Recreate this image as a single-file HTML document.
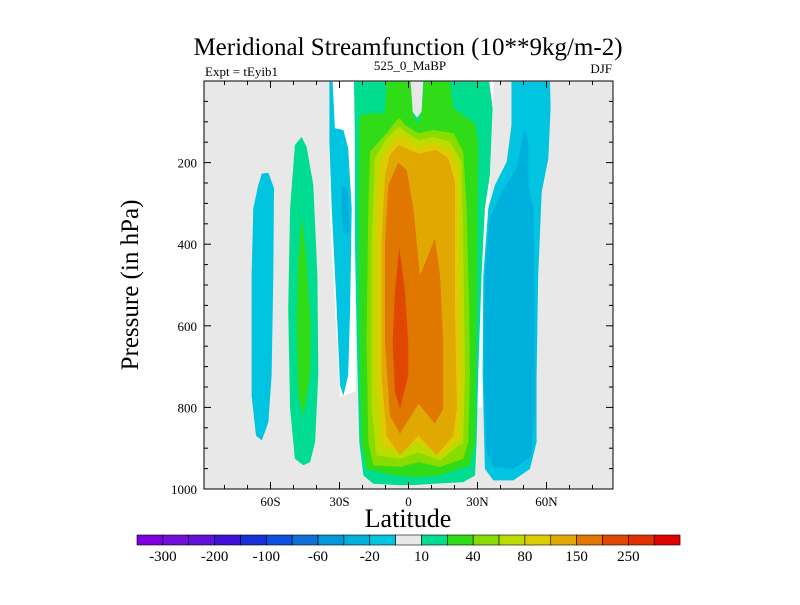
<!DOCTYPE html>
<html><head><meta charset="utf-8"><style>
body{margin:0;background:#fff;width:800px;height:600px;overflow:hidden}
svg{font-family:"Liberation Serif",serif}
</style></head><body>
<svg id="chart" width="800" height="600"></svg>
<script>
// ---- data ----
const xTicks=[-60,-30,0,30,60];
const xTickLabels=["60S","30S","0","30N","60N"];
const yTicks=[200,400,600,800,1000];
const levelBounds=[-300,-250,-200,-150,-100,-80,-60,-40,-20,-10,10,20,40,60,80,100,150,200,250,300];
const cbLabels=["-300","-200","-100","-60","-20","10","40","80","150","250"];
const levelColors=["#8000e0","#7010d8","#6010d8","#4010d8","#1830d8","#1050e0","#1070d8","#0098d8","#00b0dc","#00c4e0","#e8e8e8","#00dc90","#30dc18","#88dc00","#bcdc00","#dccc00","#e0a800","#e07800","#e04800","#e03000","#e00000"];
// contour regions: [colorIndex, points [lat, hPa]]
const whiteLeft=[[-34.4,2],[-22.5,2],[-22.5,500],[-23,760],[-29.8,775],[-34.4,300]];
const whiteRight=[[29.6,2],[37,2],[36.6,100],[33.5,500],[32.5,800],[29.3,800]];
const leftCyan=[[-63.8,227],[-60.9,225],[-58.5,263],[-58.8,476],[-59.5,721],[-60.9,836],[-63.8,881],[-66.3,869],[-68.2,771],[-68.2,476],[-67.5,312],[-65.3,255]];
const leftTeal=[[-46.5,137],[-44.3,161],[-41.4,255],[-39.6,476],[-39.2,721],[-40.6,885],[-42.8,934],[-45.7,942],[-49.4,926],[-51.5,803],[-52.3,558],[-51.5,312],[-49.4,157]];
const leftGreen=[[-46.5,329],[-44.3,443],[-42.5,599],[-42.8,721],[-45.7,820],[-47.9,771],[-48.6,599],[-47.9,435]];
const sCyan=[[-34.4,2],[-33.0,2],[-32.0,116],[-28.3,120],[-26.2,165],[-24.7,312],[-25.4,558],[-26.2,721],[-28.3,771],[-29.8,746],[-31.2,558],[-33.4,312],[-34.4,149]];
const sBlue=[[-29.1,255],[-26.2,267],[-25.7,370],[-28.0,378],[-29.1,312]];
const cTeal=[[-23.7,2],[0.9,2],[1.8,75],[3.8,90],[5.7,75],[6.4,2],[35.1,2],[36.6,67],[35.4,231],[33.2,312],[31.8,476],[30.3,721],[29.6,885],[28.9,967],[23.8,983],[10.8,987],[3.5,990],[-3.7,991],[-15.3,987],[-19.6,967],[-21.4,885],[-22.5,640],[-23.3,394],[-23.3,149]];
const cGreen=[[-21.1,83],[-15.3,79],[-10.2,79],[-9.5,2],[0.9,2],[1.8,75],[3.8,108],[5.7,75],[6.7,2],[18.0,2],[19.5,67],[28.9,104],[30.3,149],[29.9,476],[29.3,721],[28.9,885],[26.7,942],[13.7,967],[4.3,971],[-6.6,967],[-18.2,951],[-20.4,885],[-21.4,640],[-21.8,312],[-21.4,108]];
const c40=[[-5.2,96],[-3.7,92],[-1.5,108],[4.3,128],[10.8,120],[19.5,128],[23.8,173],[25.3,312],[26.4,558],[26.7,721],[26.0,885],[23.8,926],[13.7,946],[4.3,934],[-3.7,946],[-15.3,942],[-17.5,885],[-18.2,640],[-17.5,312],[-16.7,173],[-9.5,128]];
const c60=[[-4.4,112],[4.3,145],[10.8,137],[18.0,149],[23.1,198],[23.8,394],[24.5,721],[23.8,885],[13.7,930],[4.3,910],[-3.7,926],[-13.9,918],[-16.0,803],[-16.0,394],[-14.6,190],[-9.5,141]];
const c80=[[-3.7,133],[4.3,161],[11.5,153],[18.0,169],[21.6,214],[22.4,476],[23.1,721],[22.4,877],[13.7,918],[4.3,885],[-3.7,910],[-11.7,893],[-13.9,721],[-13.9,312],[-12.4,198],[-8.1,157]];
const c100=[[-4.4,157],[4.3,178],[12.2,169],[17.3,190],[20.2,247],[20.2,558],[21.0,803],[19.5,869],[12.2,918],[4.3,869],[-3.7,918],[-9.5,869],[-11.7,721],[-11.7,394],[-10.2,231],[-8.1,182]];
const c150=[[-4.4,200],[-0.8,218],[2.1,312],[5.0,476],[8.6,427],[11.5,386],[13.7,476],[15.1,640],[15.1,803],[11.5,840],[4.3,791],[-3.7,865],[-8.1,820],[-10.2,640],[-10.2,394],[-8.8,255]];
const c200=[[-4.0,407],[-1.5,517],[-0.1,640],[-0.1,721],[-3.7,803],[-5.9,762],[-6.9,640],[-5.9,517]];
const eCyan=[[44.8,2],[61.5,2],[61.8,67],[60.8,190],[57.9,272],[56.4,476],[55.7,721],[55.7,885],[52.8,951],[45.6,979],[36.9,979],[33.2,951],[32.2,721],[32.5,476],[34.7,312],[37.6,255],[42.7,198],[44.8,108]];
const eBlue=[[50.6,116],[52.1,149],[52.1,255],[54.3,312],[54.7,558],[55.0,803],[53.5,918],[45.6,951],[36.9,946],[34.0,910],[32.8,721],[33.2,476],[35.4,337],[39.8,280],[47.0,214],[49.2,149]];
const regions=[
 ["white-region-left",-1,whiteLeft],["white-region-right",-1,whiteRight],
 ["contour-60s-neg20",9,leftCyan],["contour-45s-pos10",11,leftTeal],["contour-45s-pos20",12,leftGreen],
 ["contour-30s-neg20",9,sCyan],["contour-30s-neg40",8,sBlue],
 ["contour-eq-pos10",11,cTeal],["contour-eq-pos20",12,cGreen],["contour-eq-pos40",13,c40],["contour-eq-pos60",14,c60],
 ["contour-eq-pos80",15,c80],["contour-eq-pos100",16,c100],["contour-eq-pos150",17,c150],["contour-eq-pos200",18,c200],
 ["contour-50n-neg20",9,eCyan],["contour-50n-neg40",8,eBlue]
];
// ---- layout ----
const NS="http://www.w3.org/2000/svg";
const svg=document.getElementById('chart');
const L=204,R=613,T=81,B=489;
const xS=v=>408.5+v*2.3;
const yS=v=>T+(v/1000)*(B-T);
function mk(tag,attrs,parent){const e=document.createElementNS(NS,tag);for(const k in attrs)e.setAttribute(k,attrs[k]);(parent||svg).appendChild(e);return e;}
function txt(s,attrs){const e=mk('text',attrs);e.textContent=s;return e;}

const bg=mk('rect',{x:L,y:T,width:R-L,height:B-T,fill:'#e8e8e8'});


const clip=mk('clipPath',{id:'pc'});mk('rect',{x:L,y:T,width:R-L,height:B-T},clip);
const g=mk('g',{'clip-path':'url(#pc)'});


regions.forEach(r=>{
  const pts=r[2].map(p=>xS(p[0]).toFixed(1)+','+yS(p[1]).toFixed(1)).join(' ');
  const poly=mk('polygon',{points:pts,fill:r[1]<0?'#ffffff':levelColors[r[1]]},g);
  
  
});
// frame & ticks
const fr=mk('rect',{x:L,y:T,width:R-L,height:B-T,fill:'none',stroke:'#000','stroke-width':1});


for(let v=-80;v<=80;v+=10){const x=xS(v),len=(v%30===0)?7:4;
  mk('line',{x1:x,y1:B,x2:x,y2:B-len,stroke:'#000'});mk('line',{x1:x,y1:T,x2:x,y2:T+len,stroke:'#000'});}
for(let v=50;v<1000;v+=50){const y=yS(v),len=(v%200===0)?7:4;
  mk('line',{x1:L,y1:y,x2:L+len,y2:y,stroke:'#000'});mk('line',{x1:R,y1:y,x2:R-len,y2:y,stroke:'#000'});}
xTicks.forEach((v,i)=>{const t=txt(xTickLabels[i],{x:xS(v),y:B+17,'text-anchor':'middle','font-size':13});
  
  });
yTicks.forEach(v=>{const t=txt(String(v),{x:L-7,y:yS(v)+5,'text-anchor':'end','font-size':13});
  
  });
// titles
let t;
t=txt('Meridional Streamfunction (10**9kg/m-2)',{x:408,y:55,'text-anchor':'middle','font-size':25});

t=txt('Expt = tEyib1',{x:205,y:76,'font-size':13});

t=txt('525_0_MaBP',{x:410,y:70,'text-anchor':'middle','font-size':13});

t=txt('DJF',{x:612,y:73,'text-anchor':'end','font-size':13});

t=txt('Latitude',{x:408,y:527,'text-anchor':'middle','font-size':26});

t=txt('Pressure (in hPa)',{x:0,y:0,'text-anchor':'middle','font-size':25,transform:'translate(138,285) rotate(-90)'});

// colorbar
const cbX=137,cbY=535,cbW=25.86,cbH=10;
levelColors.forEach((c,i)=>{const r=mk('rect',{x:cbX+i*cbW,y:cbY,width:cbW,height:cbH,fill:c,stroke:'#000','stroke-width':0.6});
  
  });
cbLabels.forEach((s,i)=>{const tt=txt(s,{x:cbX+(1+2*i)*cbW,y:cbY+26,'text-anchor':'middle','font-size':15});
  
  });
</script>
</body></html>
